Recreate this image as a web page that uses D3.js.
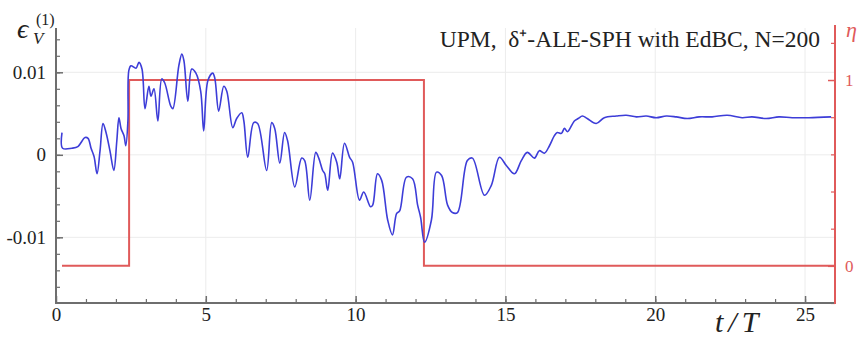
<!DOCTYPE html>
<html>
<head>
<meta charset="utf-8">
<script src="https://cdn.jsdelivr.net/npm/d3@7/dist/d3.min.js"></script>
<style>
  html, body { margin: 0; padding: 0; background: #fff; }
  svg { display: block; }
  svg text { font-family: "Liberation Serif", serif; }
</style>
</head>
<body>
<svg id="chart" width="863" height="341"></svg>
<script>
// Volume error history epsilon_V^(1) against t/T
const timeT = [0.20, 0.22, 0.53, 0.73, 0.97, 1.07, 1.17, 1.27, 1.37, 1.47, 1.57, 1.67, 1.80, 1.93, 2.03, 2.10, 2.17, 2.27, 2.33, 2.40,
  2.43, 2.50, 2.67, 2.77, 2.87, 2.97, 3.10, 3.17, 3.27, 3.40, 3.53, 3.63, 3.83, 3.90, 4.10, 4.20, 4.27, 4.40, 4.53, 4.67,
  4.83, 4.93, 5.07, 5.23, 5.30, 5.43, 5.60, 5.70, 5.90, 6.03, 6.20, 6.27, 6.40, 6.60, 6.73, 7.03, 7.20, 7.30, 7.47, 7.63,
  7.73, 7.97, 8.20, 8.30, 8.47, 8.67, 8.77, 8.90, 8.97, 9.07, 9.23, 9.37, 9.47, 9.63, 9.80, 9.90, 10.13, 10.27, 10.50, 10.57,
  10.73, 10.87, 11.07, 11.23, 11.37, 11.47, 11.70, 11.90, 12.07, 12.17, 12.30, 12.53, 12.70, 12.87, 13.07, 13.23, 13.40, 13.73, 13.90, 14.30,
  14.53, 14.80, 15.03, 15.30, 15.53, 15.73, 15.97, 16.13, 16.30, 16.47, 16.63, 16.73, 16.87, 16.97, 17.07, 17.30, 17.43, 17.57, 17.73, 18.03,
  18.30, 18.70, 19.03, 19.37, 19.70, 20.03, 20.37, 20.70, 21.07, 21.47, 21.90, 22.40, 22.90, 23.23, 23.70, 24.13, 24.57, 25.13, 25.87];
const epsV = [0.0027, 0.0008, 0.0008, 0.0010, 0.0021, 0.0020, 0.0008, -0.0002, -0.0023, 0.0005, 0.0038, 0.0027, 0.0005, -0.0019, 0.0017, 0.0045, 0.0032, 0.0023, 0.0011, 0.0041,
  0.0102, 0.0108, 0.0105, 0.0112, 0.0104, 0.0056, 0.0083, 0.0071, 0.0080, 0.0041, 0.0092, 0.0087, 0.0059, 0.0056, 0.0108, 0.0122, 0.0114, 0.0065, 0.0104, 0.0099,
  0.0077, 0.0029, 0.0090, 0.0099, 0.0093, 0.0053, 0.0083, 0.0077, 0.0033, 0.0044, 0.0051, 0.0041, -0.0003, 0.0039, 0.0038, -0.0019, 0.0039, 0.0032, -0.0010, 0.0027,
  0.0017, -0.0039, -0.0004, -0.0007, -0.0055, 0.0003, -0.0004, -0.0019, -0.0023, -0.0043, 0.0002, -0.0009, -0.0029, 0.0014, -0.0003, -0.0009, -0.0055, -0.0045, -0.0063, -0.0061,
  -0.0023, -0.0031, -0.0079, -0.0097, -0.0071, -0.0068, -0.0027, -0.0029, -0.0061, -0.0076, -0.0106, -0.0079, -0.0021, -0.0025, -0.0061, -0.0070, -0.0070, -0.0007, -0.0004, -0.0049,
  -0.0037, -0.0003, -0.0013, -0.0023, -0.0007, 0.0003, -0.0004, 0.0005, 0.0002, 0.0011, 0.0023, 0.0027, 0.0026, 0.0032, 0.0028, 0.0041, 0.0044, 0.0047, 0.0044, 0.0038,
  0.0045, 0.0047, 0.0048, 0.0046, 0.0047, 0.0045, 0.0047, 0.0046, 0.0044, 0.0046, 0.0046, 0.0048, 0.0045, 0.0046, 0.0044, 0.0046, 0.0045, 0.0045, 0.0046];

// Switching function eta (step)
const etaT = [0.20, 2.44, 12.28, 26.0];
const etaV = [0, 1, 0, 0];

// Axis ticks
const xTicks = [0, 5, 10, 15, 20, 25];
const xTickLabels = ["0", "5", "10", "15", "20", "25"];
const yTicks = [-0.01, 0, 0.01];
const yTickLabels = ["-0.01", "0", "0.01"];
const etaTicks = [0, 1];
const etaTickLabels = ["0", "1"];

const titleText = "UPM,  δ\u207A-ALE-SPH with EdBC, N=200";

const serif = "Liberation Serif, serif";
const svg = d3.select("#chart");
const plotL = 56, plotR = 835, plotT = 28, plotB = 303;

const x = d3.scaleLinear().domain([0, 26]).range([plotL, plotR]);
const y = d3.scaleLinear().domain([-0.01796, 0.01537]).range([plotB, plotT]);
const yEta = d3.scaleLinear().domain([-0.2, 1.28]).range([plotB, plotT]);

const axisColor = "#6e6e6e";
const red = "#e05a5a";
const blue = "#3d3dd8";

// grid
const grid = svg.append("g").attr("stroke", "#ececec").attr("stroke-width", 1);
grid.selectAll("line.gx").data(xTicks.filter(d => d > 0)).join("line")
  .attr("x1", d => x(d)).attr("x2", d => x(d)).attr("y1", plotT).attr("y2", plotB);
grid.selectAll("line.gy").data(yTicks).join("line")
  .attr("x1", plotL).attr("x2", plotR).attr("y1", d => y(d)).attr("y2", d => y(d));

// minor ticks
function minorAxis(g, axis, color) {
  g.call(axis);
  g.select(".domain").remove();
  g.selectAll("line").attr("stroke", color).attr("stroke-width", 1.2);
  g.selectAll("text").remove();
}
svg.append("g").attr("transform", `translate(0,${plotB})`)
  .call(g => minorAxis(g, d3.axisBottom(x).tickValues(d3.range(1, 26)).tickSize(-4), axisColor));
svg.append("g").attr("transform", `translate(${plotL},0)`)
  .call(g => minorAxis(g, d3.axisLeft(y).tickValues(d3.range(-0.016, 0.0151, 0.002)).tickSize(-4), axisColor));
svg.append("g").attr("transform", `translate(${plotR},0)`)
  .call(g => minorAxis(g, d3.axisRight(yEta).tickValues([-0.2, 0.2, 0.4, 0.6, 0.8, 1.2]).tickSize(-4), red));

// major axes
function styleAxis(g, color, textColor, size) {
  g.attr("font-family", serif);
  g.select(".domain").remove();
  g.selectAll("line").attr("stroke", color).attr("stroke-width", 1.5);
  g.selectAll("text").attr("fill", textColor).attr("font-size", size)
    .attr("font-family", serif);
}
const xAxis = svg.append("g").attr("transform", `translate(0,${plotB})`)
  .call(d3.axisBottom(x).tickValues(xTicks).tickFormat((d, i) => xTickLabels[i]).tickSize(-7).tickPadding(5));
styleAxis(xAxis, axisColor, "#222", 19);

const yAxis = svg.append("g").attr("transform", `translate(${plotL},0)`)
  .call(d3.axisLeft(y).tickValues(yTicks).tickFormat((d, i) => yTickLabels[i]).tickSize(-7).tickPadding(10));
styleAxis(yAxis, axisColor, "#222", 19);

const etaAxis = svg.append("g").attr("transform", `translate(${plotR},0)`)
  .call(d3.axisRight(yEta).tickValues(etaTicks).tickFormat((d, i) => etaTickLabels[i]).tickSize(-7).tickPadding(10));
styleAxis(etaAxis, red, red, 17);

// axis lines
svg.append("line").attr("x1", plotL).attr("x2", plotL).attr("y1", plotT).attr("y2", plotB + 1)
  .attr("stroke", axisColor).attr("stroke-width", 2);
svg.append("line").attr("x1", plotL - 1).attr("x2", plotR).attr("y1", plotB).attr("y2", plotB)
  .attr("stroke", axisColor).attr("stroke-width", 2);
svg.append("line").attr("x1", plotR).attr("x2", plotR).attr("y1", plotT - 3).attr("y2", plotB + 1)
  .attr("stroke", red).attr("stroke-width", 2);

// eta step
const etaData = etaT.map((t, i) => ({ t, v: etaV[i] }));
svg.append("path").datum(etaData)
  .attr("fill", "none").attr("stroke", red).attr("stroke-width", 2)
  .attr("d", d3.line().x(d => x(d.t)).y(d => yEta(d.v)).curve(d3.curveStepAfter));

// epsilon curve
const epsData = timeT.map((t, i) => ({ t, v: epsV[i] }));
svg.append("path").datum(epsData)
  .attr("fill", "none").attr("stroke", blue).attr("stroke-width", 1.6)
  .attr("stroke-linejoin", "round")
  .attr("d", d3.line().x(d => x(d.t)).y(d => y(d.v)).curve(d3.curveCatmullRom.alpha(0.5)));

// title
svg.append("text").attr("x", 820).attr("y", 47).attr("text-anchor", "end")
  .attr("font-family", serif).style("white-space", "pre")
  .attr("font-size", 23.5).attr("fill", "#222").text(titleText);

// y label: epsilon_V^(1)
svg.append("text").attr("x", 17).attr("y", 38).attr("fill", "#222")
  .attr("font-size", 28).attr("font-style", "italic").attr("font-family", serif).text("\u03F5");
svg.append("text").attr("x", 33).attr("y", 44).attr("font-size", 17).attr("font-style", "italic")
  .attr("font-family", serif).attr("fill", "#222").text("V");
svg.append("text").attr("x", 36).attr("y", 25).attr("font-size", 16)
  .attr("font-family", serif).attr("fill", "#222").text("(1)");

// eta label
svg.append("text").attr("x", 846).attr("y", 37).attr("font-size", 22).attr("font-style", "italic")
  .attr("font-family", serif).attr("fill", red).text("\u03B7");

// x label
svg.append("text").attr("x", 715).attr("y", 332).attr("letter-spacing", 5)
  .attr("font-size", 30).attr("font-style", "italic").attr("font-family", serif)
  .attr("fill", "#222").text("t/T");
</script>
</body>
</html>
